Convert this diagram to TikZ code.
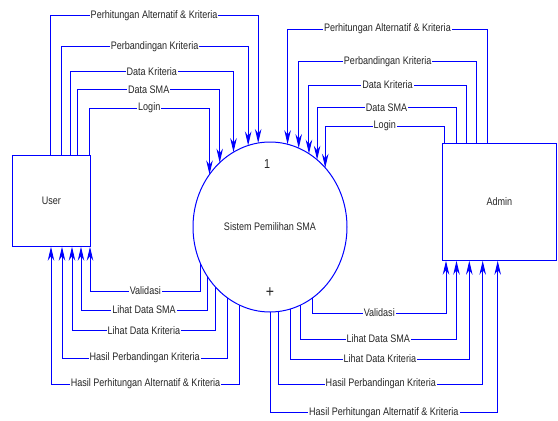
\documentclass[tikz,border=0pt]{standalone}
\usepackage{fontspec}
\setmainfont{Liberation Sans}[FakeStretch=0.83]
\usetikzlibrary{shapes.geometric,arrows.meta}
\begin{document}
\begin{tikzpicture}[x=1pt,y=-1pt,
  >={Stealth[length=14pt,width=6.5pt,inset=4.5pt]},
  txt/.style={font=\fontsize{10.9}{12}\selectfont, text=black!85},
  big/.style={font=\fontsize{13}{14}\selectfont, text=black!85},
  box/.style={draw=blue, line width=1pt, inner sep=0pt, outer sep=0pt, txt},
  proc/.style={ellipse, draw=blue, line width=1pt, inner sep=0pt, outer sep=0pt,
    minimum width=154pt, minimum height=170pt, txt},
  fin/.style={draw=blue, line width=1pt, ->},
  fout/.style={draw=blue, line width=1pt, <-},
  lbl/.style={fill=white, inner sep=1pt, txt, pos=0.25}
]
\useasboundingbox (0,0) rectangle (558,421);
\node[box, minimum width=77.3pt, minimum height=91pt] (u) at (51.35,201.2) {User};
\node[box, minimum width=113.3pt, minimum height=117.4pt] (a) at (499.35,202) {Admin};
\node[proc] (p) at (270,227) {Sistem Pemilihan SMA};
\node[big] (n1) at (267,164) {1};
\node[font=\fontsize{17}{18}\selectfont, text=black!85] (pl) at (270,293) {+};

% User -> process
\draw[fin] ([xshift=37.3pt]u.north west) -- ++(0,-140)   -| node[lbl] (ul1) {Perhitungan Alternatif \& Kriteria} (p.98.34);
\draw[fin] ([xshift=48.3pt]u.north west) -- ++(0,-109)   -| node[lbl] (ul2) {Perbandingan Kriteria} (p.105.83);
\draw[fin] ([xshift=57.3pt]u.north west) -- ++(0,-84)    -| node[lbl] (ul3) {Data Kriteria} (p.116.40);
\draw[fin] ([xshift=65pt]u.north west)   -- ++(0,-66.4)  -| node[lbl] (ul4) {Data SMA} (p.128.69);
\draw[fin] ([xshift=76.3pt]u.north west) -- ++(0,-47.7)  -| node[lbl] (ul5) {Login} (p.139.63);

% Admin -> process
\draw[fin] ([xshift=44.6pt]a.north west) -- ++(0,-114.3) -| node[lbl] (al1) {Perhitungan Alternatif \& Kriteria} (p.78.76);
\draw[fin] ([xshift=34pt]a.north west)   -- ++(0,-81.6)  -| node[lbl] (al2) {Perbandingan Kriteria} (p.70.53);
\draw[fin] ([xshift=23.3pt]a.north west) -- ++(0,-58.3)  -| node[lbl] (al3) {Data Kriteria} (p.62.39);
\draw[fin] ([xshift=13.3pt]a.north west) -- ++(0,-35.6)  -| node[lbl] (al4) {Data SMA} (p.55.54);
\draw[fin] ([xshift=1.6pt]a.north west)  -- ++(0,-17.3)  -| node[lbl] (al5) {Login} (p.47.24);

% process -> User
\draw[fout] ([xshift=77.3pt]u.south west) -- ++(0,44.3)  -| node[lbl] (ub1) {Validasi} (p.208.67);
\draw[fout] ([xshift=68.3pt]u.south west) -- ++(0,63.3)  -| node[lbl] (ub2) {Lihat Data SMA} (p.218.20);
\draw[fout] ([xshift=59.3pt]u.south west) -- ++(0,84)    -| node[lbl] (ub3) {Lihat Data Kriteria} (p.228.81);
\draw[fout] ([xshift=49.3pt]u.south west) -- ++(0,111.3) -| node[lbl] (ub4) {Hasil Perbandingan Kriteria} (p.239.05);
\draw[fout] ([xshift=38.3pt]u.south west) -- ++(0,137.3) -| node[lbl] (ub5) {Hasil Perhitungan Alternatif \& Kriteria} (p.249.78);

% process -> Admin
\draw[fout] ([xshift=3.3pt]a.south west)  -- ++(0,52.3)  -| node[lbl] (ab1) {Validasi} (p.301.38);
\draw[fout] ([xshift=13.8pt]a.south west) -- ++(0,78.3)  -| node[lbl] (ab2) {Lihat Data SMA} (p.291.49);
\draw[fout] ([xshift=26.6pt]a.south west) -- ++(0,98.3)  -| node[lbl] (ab3) {Lihat Data Kriteria} (p.284.19);
\draw[fout] ([xshift=40pt]a.south west)   -- ++(0,123.3) -| node[lbl] (ab4) {Hasil Perbandingan Kriteria} (p.276.29);
\draw[fout] ([xshift=55pt]a.south west)   -- ++(0,152)   -| node[lbl] (ab5) {Hasil Perhitungan Alternatif \& Kriteria} (p.south);
\end{tikzpicture}
\end{document}
